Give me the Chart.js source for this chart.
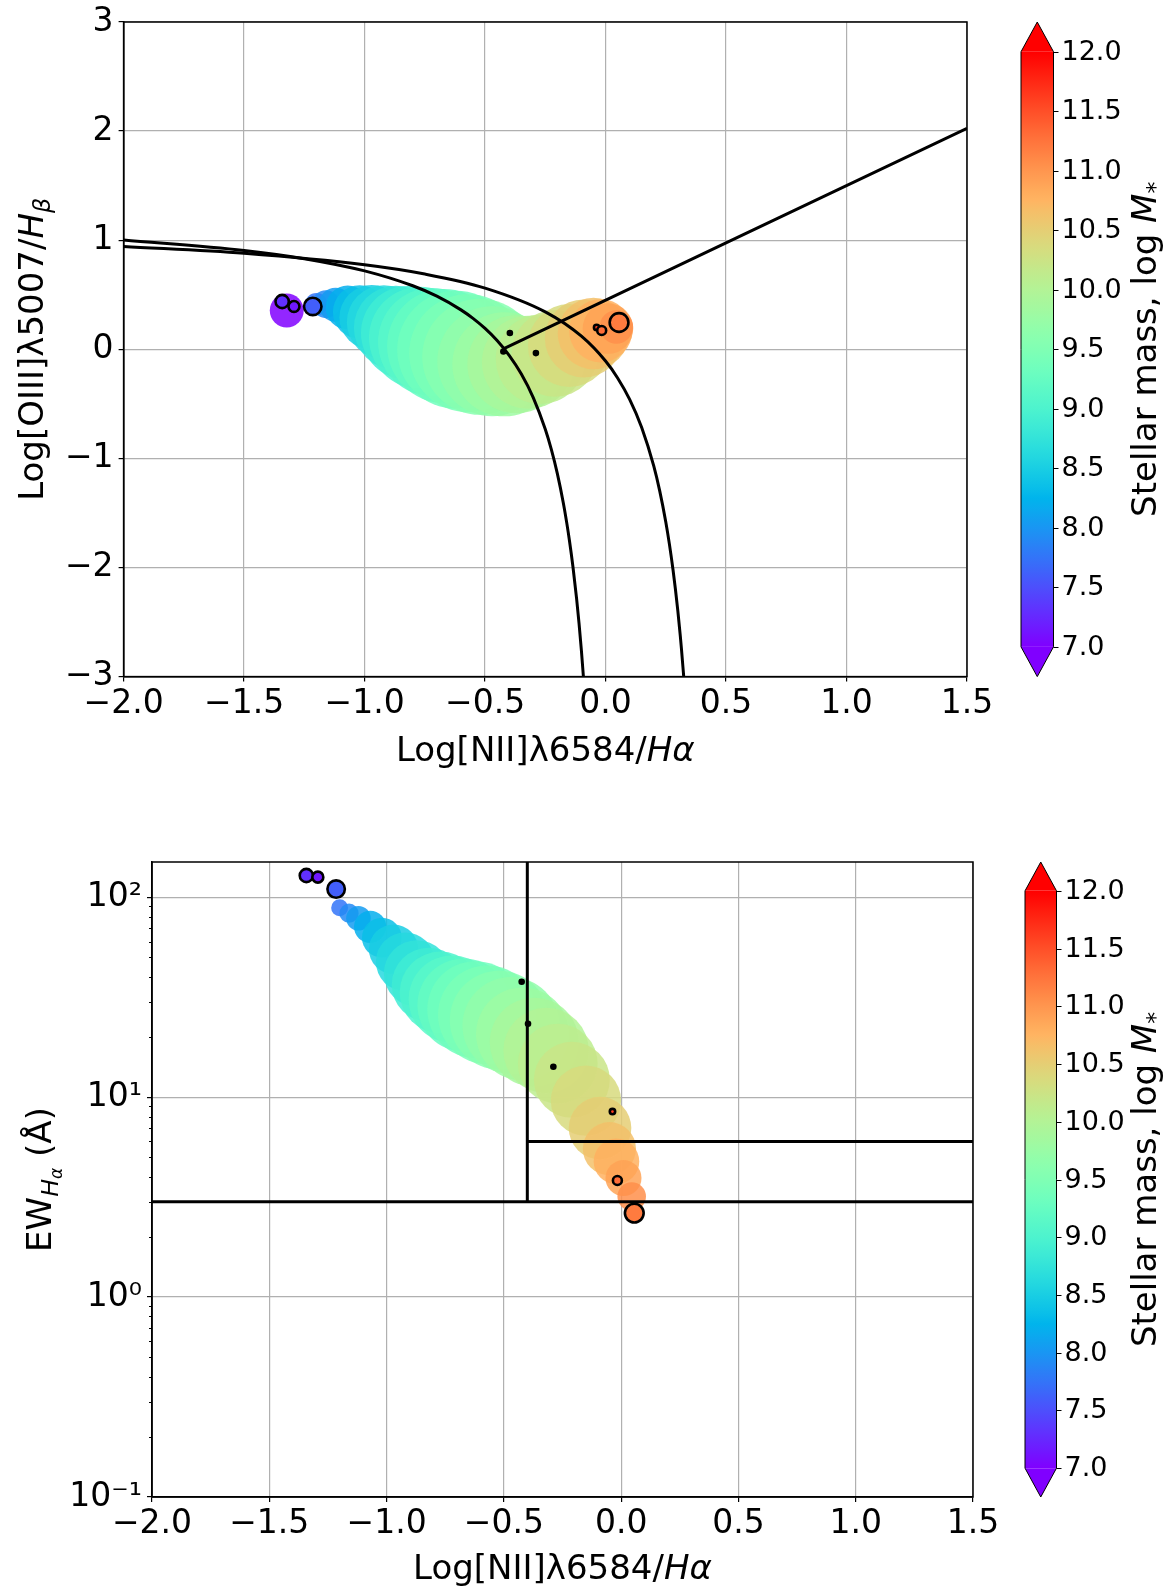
<!DOCTYPE html>
<html>
<head>
<meta charset="utf-8">
<script src="https://cdn.jsdelivr.net/npm/chart.js@4.4.1/dist/chart.umd.min.js"></script>
<style>
  html, body { margin: 0; padding: 0; background: #fff; overflow: hidden; }
  #wrap { position: relative; width: 1176px; height: 1588px; overflow: hidden; }
  #wrap canvas { position: absolute; left: 0; }
</style>
</head>
<body>
<div id="wrap">
  <!-- top canvas starts above the page so the bubble overflow padding stays off-screen -->
  <canvas id="bpt" style="top:-40px" width="1176" height="830"></canvas>
  <canvas id="whan" style="top:790px" width="1176" height="798"></canvas>
</div>
<script>
// stacked track, one bubble per stellar-mass bin
const trackMass = [7.0, 7.75, 7.9, 8.05, 8.2, 8.35, 8.5, 8.62, 8.75, 8.88, 9.0, 9.12, 9.24, 9.35,
                   9.46, 9.57, 9.68, 9.79, 9.9, 10.0, 10.1, 10.22, 10.36, 10.5, 10.63, 10.77, 10.9, 11.05];
const trackNII = [-1.323, -1.20, -1.16, -1.12, -1.07, -1.02, -0.97, -0.92, -0.87, -0.82, -0.77, -0.72, -0.67, -0.62,
                  -0.57, -0.52, -0.47, -0.42, -0.37, -0.32, -0.27, -0.21, -0.15, -0.09, -0.05, -0.02, 0.01, 0.045];
const trackOIII = [0.356, 0.413, 0.414, 0.408, 0.383, 0.342, 0.292, 0.249, 0.198, 0.150, 0.105, 0.067, 0.030, -0.005,
                   -0.036, -0.069, -0.110, -0.138, -0.138, -0.119, -0.092, -0.037, 0.035, 0.100, 0.145, 0.170, 0.190, 0.205];
const trackEW = [null, 88.5, 83.2, 78.5, 71.1, 62.7, 54.9, 47.5, 41.5, 36.5, 33.4, 30.9, 28.9, 27.4,
                 25.8, 24.3, 22.8, 20.7, 18.8, 17.1, 14.7, 12.2, 9.6, 7.0, 5.52, 4.77, 3.94, 3.18];
// marker areas
const bptArea = [72, 32, 49, 72, 121, 180, 262, 342, 441, 552, 650, 729, 812, 870,
                 870, 841, 756, 676, 600, 540, 500, 470, 430, 380, 320, 250, 160, 70];
const whanArea = [65, 18, 23, 38, 65, 99, 153, 217, 276, 343, 417, 477, 542, 587,
                  610, 610, 587, 542, 498, 457, 398, 361, 309, 245, 177, 130, 81, 51];

// single objects, drawn with a black edge
const markMass = [7.3, 7.15, 7.6, 11.6, 11.3, 11.2];
const markArea = [11, 7.5, 19, 1.8, 5, 22];
const markNII = [-1.342, -1.293, -1.215, -0.037, -0.016, 0.056];
const markOIII = [0.438, 0.393, 0.393, 0.200, 0.172, 0.246];
const markEW = [128.4, 126.0, 109.8, 8.47, 3.83, 2.63];

// black points
const dotNII = [-0.424, -0.397, -0.289];
const dotOIII = [-0.020, 0.149, -0.035];
const dotEW = [37.8, 23.3, 14.2];

// demarcation lines (Kauffmann 2003, Kewley 2001, Seyfert/LINER)
const kauffX = [-2.0, -1.5, -1.25, -1.0, -0.8, -0.7, -0.6, -0.55, -0.5, -0.45, -0.4, -0.35, -0.3, -0.25, -0.225,
                -0.2, -0.175, -0.16, -0.15, -0.135, -0.12, -0.11, -0.1, -0.0919];
const kauffY = [1.0024, 0.9065, 0.8308, 0.7190, 0.5824, 0.4867, 0.3615, 0.2833, 0.1909, 0.08, -0.0556, -0.225, -0.4429,
                -0.7333, -0.9182, -1.14, -1.4111, -1.6048, -1.75, -1.9973, -2.2882, -2.5125, -2.7667, -3.0];
const kewleyX = [-2.0, -1.5, -1.0, -0.75, -0.5, -0.25, -0.1, 0.0, 0.05, 0.1, 0.15, 0.2, 0.225, 0.25, 0.265, 0.28,
                 0.29, 0.3, 0.31, 0.315, 0.3244];
const kewleyY = [0.9430, 0.8804, 0.7750, 0.69, 0.5611, 0.3428, 0.1198, -0.1079, -0.2624, -0.4586, -0.7163, -1.0693,
                 -1.2998, -1.5827, -1.7856, -2.0205, -2.1989, -2.3982, -2.6225, -2.7455, -3.0];
const seyX = [-0.4218, 1.5];
const seyY = [0.0071, 2.025];

// WHAN cuts
const whanLowX = [-2.0, 1.5], whanLowY = [3, 3];
const whanVertX = [-0.4, -0.4], whanVertY = [3, 150];
const whanAgnX = [-0.4, 1.5], whanAgnY = [6, 6];

// ticks
const nIITicks = [-2.0, -1.5, -1.0, -0.5, 0.0, 0.5, 1.0, 1.5];
const oIIITicks = [-3, -2, -1, 0, 1, 2, 3];
const ewTicks = [0.1, 1, 10, 100];
const ewTickLabels = ['10\u207B\u00B9', '10\u2070', '10\u00B9', '10\u00B2'];
const massTicks = [7.0, 7.5, 8.0, 8.5, 9.0, 9.5, 10.0, 10.5, 11.0, 11.5, 12.0];

const FONT = '"DejaVu Sans", "Noto Sans", sans-serif';
Chart.defaults.font.family = FONT;
Chart.defaults.color = '#000';

// matplotlib "rainbow", norm 7..12
function rainbow(m) {
    const t = Math.min(1, Math.max(0, (m - 7) / 5));
    const c = [Math.abs(2 * t - 0.5), Math.sin(Math.PI * t), Math.cos(Math.PI * t / 2)];
    return c.map(v => Math.round(Math.max(0, Math.min(1, v)) * 255));
}
function rgba(m, a) {
    const c = rainbow(m);
    return `rgba(${c[0]},${c[1]},${c[2]},${a})`;
}
const minus = s => s.replace('-', '\u2212');

function pts(xs, ys) {
    return xs.map((x, i) => ({ x, y: ys[i] }));
}
// bubble radius = 2 * sqrt(area value)
function bubbles(xs, ys, mass, area) {
    return xs.map((x, i) => ({ x, y: ys[i], r: 2 * Math.sqrt(area[i]), m: mass[i] }))
        .filter(p => p.y !== null);
}

function richText(ctx, parts, size, cx, cy, angle) {
    ctx.save();
    ctx.translate(cx, cy);
    ctx.rotate(angle);
    let w = 0;
    const runs = parts.map(p => {
        const font = (p.it ? 'italic ' : '') + (size * (p.s || 1)) + 'px ' + FONT;
        ctx.font = font;
        const r = { t: p.t, font, x: w, dy: (p.dy || 0) * size };
        w += ctx.measureText(p.t).width;
        return r;
    });
    ctx.fillStyle = '#000';
    ctx.textAlign = 'left';
    ctx.textBaseline = 'alphabetic';
    runs.forEach(r => {
        ctx.font = r.font;
        ctx.fillText(r.t, r.x - w / 2, size * 0.36 + r.dy);
    });
    ctx.restore();
}

const figurePlugin = {
    id: 'figure',
    afterDatasetsDraw(chart, args, o) {
        const ctx = chart.ctx, a = chart.chartArea;
        ctx.save();
        ctx.strokeStyle = '#000';
        ctx.lineWidth = 1.5;
        ctx.strokeRect(a.left, a.top, a.right - a.left, a.bottom - a.top);
        if (o.minor) {
            const ys = chart.scales.y;
            ctx.lineWidth = 1;
            o.minor.forEach(v => {
                const py = Math.round(ys.getPixelForValue(v)) + 0.5;
                ctx.beginPath();
                ctx.moveTo(a.left, py);
                ctx.lineTo(a.left - 3, py);
                ctx.stroke();
            });
        }
        ctx.restore();
    },
    afterDraw(chart, args, o) {
        const ctx = chart.ctx, a = chart.chartArea, cb = chart.scales.cb;
        const x0 = o.cbLeft, x1 = o.cbRight, xm = (x0 + x1) / 2;
        const yLo = cb.getPixelForValue(7), yHi = cb.getPixelForValue(12);

        ctx.save();
        const grad = ctx.createLinearGradient(0, yLo, 0, yHi);
        for (let i = 0; i <= 60; i++) grad.addColorStop(i / 60, rgba(7 + 5 * i / 60, 1));
        ctx.fillStyle = grad;
        ctx.fillRect(x0, yHi, x1 - x0, yLo - yHi);
        ctx.fillStyle = rgba(12, 1);
        ctx.beginPath();
        ctx.moveTo(x0, yHi); ctx.lineTo(xm, a.top); ctx.lineTo(x1, yHi); ctx.closePath();
        ctx.fill();
        ctx.fillStyle = rgba(7, 1);
        ctx.beginPath();
        ctx.moveTo(x0, yLo); ctx.lineTo(xm, a.bottom); ctx.lineTo(x1, yLo); ctx.closePath();
        ctx.fill();

        ctx.strokeStyle = '#000';
        ctx.lineWidth = 1;
        ctx.beginPath();
        ctx.moveTo(x0, yHi); ctx.lineTo(xm, a.top); ctx.lineTo(x1, yHi);
        ctx.lineTo(x1, yLo); ctx.lineTo(xm, a.bottom); ctx.lineTo(x0, yLo);
        ctx.closePath();
        ctx.stroke();

        ctx.font = '27px ' + FONT;
        ctx.fillStyle = '#000';
        ctx.textAlign = 'left';
        ctx.textBaseline = 'middle';
        massTicks.forEach(v => {
            const py = Math.round(cb.getPixelForValue(v)) + 0.5;
            ctx.beginPath();
            ctx.moveTo(x1, py);
            ctx.lineTo(x1 + 5, py);
            ctx.stroke();
            ctx.fillText(v.toFixed(1), x1 + 8, py);
        });
        ctx.restore();

        richText(ctx, [{ t: 'Stellar mass, log ' }, { t: 'M', it: true }, { t: '*', s: 0.7, dy: 0.22 }],
            34, o.cbLabelX, (a.top + a.bottom) / 2, -Math.PI / 2);
        richText(ctx, o.xTitle, 34, (a.left + a.right) / 2, o.xTitleY, 0);
        richText(ctx, o.yTitle, 34, o.yTitleX, (a.top + a.bottom) / 2, -Math.PI / 2);
    }
};

const lineStyle = {
    type: 'line', borderColor: '#000', borderWidth: 3, pointRadius: 0,
    fill: false, cubicInterpolationMode: 'monotone', order: 2
};
const gridStyle = { color: '#b0b0b0', lineWidth: 1.2, tickColor: '#000', tickLength: 5, tickWidth: 1.2 };
const borderStyle = { display: true, color: '#000', width: 1.5 };

function xAxis(height) {
    return {
        type: 'linear', min: -2, max: 1.5,
        afterBuildTicks: s => { s.ticks = nIITicks.map(v => ({ value: v })); },
        afterFit: s => { s.height = height; },
        ticks: {
            font: { size: 33 }, padding: 3, maxRotation: 0, autoSkip: false,
            callback: v => minus(v.toFixed(1))
        },
        grid: gridStyle, border: borderStyle
    };
}

function baseOptions(pad, xTitleY, yTitleX, xTitle, yTitle, cbLeft, cbRight) {
    return {
        responsive: false, animation: false, events: [],
        layout: { padding: pad },
        plugins: {
            legend: { display: false }, tooltip: { enabled: false },
            figure: { xTitleY, yTitleX, xTitle, yTitle, cbLeft, cbRight, cbLabelX: 1143.5 }
        }
    };
}

function datasets(lines, ys, area, markY, dotY) {
    return [
        ...lines.map(l => ({ ...lineStyle, data: pts(l[0], l[1]) })),
        {
            data: bubbles(trackNII, ys, trackMass, area),
            backgroundColor: c => c.raw ? rgba(c.raw.m, 0.85) : 'transparent',
            borderWidth: 0, order: 3
        },
        {
            data: bubbles(markNII, markY, markMass, markArea),
            backgroundColor: c => c.raw ? rgba(c.raw.m, 1) : 'transparent',
            borderColor: '#000', borderWidth: 2.6, order: 1
        },
        {
            data: dotNII.map((x, i) => ({ x, y: dotY[i], r: 3.3 })),
            backgroundColor: '#000', borderWidth: 0, order: 0
        }
    ];
}

// ---- BPT panel (canvas shifted up by 40px) ----
const bptOpts = baseOptions({ top: 62, right: 209, left: 0, bottom: 0 }, 788.6, 30.4,
    [{ t: 'Log[NII]\u03BB6584/' }, { t: 'H\u03B1', it: true }],
    [{ t: 'Log[OIII]\u03BB5007/' }, { t: 'H', it: true }, { t: '\u03B2', it: true, s: 0.7, dy: 0.22 }],
    1021, 1053.5);
bptOpts.scales = {
    x: xAxis(113.4),
    y: {
        type: 'linear', min: -3, max: 3,
        afterBuildTicks: s => { s.ticks = oIIITicks.map(v => ({ value: v })); },
        afterFit: s => { s.width = 123.6; },
        ticks: { font: { size: 33 }, padding: 5, callback: v => minus(String(v)) },
        grid: gridStyle, border: borderStyle
    },
    cb: { type: 'linear', display: false, position: 'right', min: 6.75, max: 12.25 }
};

new Chart(document.getElementById('bpt'), {
    type: 'bubble',
    data: {
        datasets: datasets([[kauffX, kauffY], [kewleyX, kewleyY], [seyX, seyY]],
            trackOIII, bptArea, markOIII, dotOIII)
    },
    options: bptOpts,
    plugins: [figurePlugin]
});

// ---- WHAN panel ----
const ewMinor = [];
[0.1, 1, 10].forEach(d => { for (let k = 2; k <= 9; k++) ewMinor.push(d * k); });

const whanOpts = baseOptions({ top: 72, right: 203, left: 0, bottom: 0 }, 777, 38.5,
    [{ t: 'Log[NII]\u03BB6584/' }, { t: 'H\u03B1', it: true }],
    [{ t: 'EW' }, { t: 'H', it: true, s: 0.7, dy: 0.22 }, { t: '\u03B1', it: true, s: 0.5, dy: 0.34 }, { t: ' (\u00C5)' }],
    1025, 1056.5);
whanOpts.plugins.figure.minor = ewMinor;
whanOpts.scales = {
    x: xAxis(91),
    y: {
        type: 'logarithmic', min: 0.1, max: 150,
        afterBuildTicks: s => { s.ticks = ewTicks.map(v => ({ value: v })); },
        afterFit: s => { s.width = 152; },
        ticks: { font: { size: 33 }, padding: 5, callback: v => ewTickLabels[ewTicks.indexOf(v)] },
        grid: gridStyle, border: borderStyle
    },
    cb: { type: 'linear', display: false, position: 'right', min: 6.75, max: 12.25 }
};

new Chart(document.getElementById('whan'), {
    type: 'bubble',
    data: {
        datasets: datasets([[whanLowX, whanLowY], [whanVertX, whanVertY], [whanAgnX, whanAgnY]],
            trackEW, whanArea, markEW, dotEW)
    },
    options: whanOpts,
    plugins: [figurePlugin]
});
</script>
</body>
</html>
